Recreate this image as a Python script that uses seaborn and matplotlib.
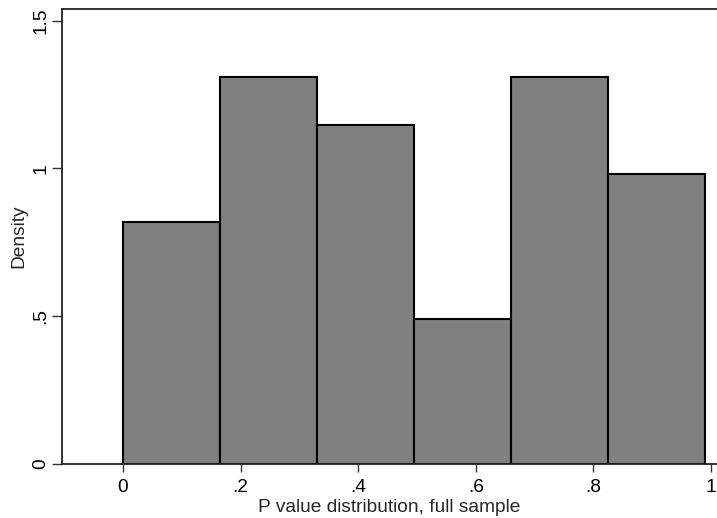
import matplotlib
matplotlib.use("Agg")
import matplotlib.pyplot as plt
import seaborn as sns

# Histogram of p values: bin edges and observation counts per bin
bin_edges = [0.0, 0.165, 0.33, 0.495, 0.66, 0.825, 0.99]
bin_counts = [5, 8, 7, 3, 8, 6]
bin_centers = [(a + b) / 2 for a, b in zip(bin_edges[:-1], bin_edges[1:])]

x_ticks = [0, 0.2, 0.4, 0.6, 0.8, 1.0]
x_tick_labels = ["0", ".2", ".4", ".6", ".8", "1"]
y_ticks = [0, 0.5, 1.0, 1.5]
y_tick_labels = ["0", ".5", "1", "1.5"]

FS = 13.8

sns.set_theme(style="white")
plt.rcParams["font.family"] = ["Liberation Sans", "DejaVu Sans"]
plt.rcParams["font.size"] = FS

fig = plt.figure(figsize=(7.17, 5.18), dpi=100)
ax = fig.add_axes([0.0865, 0.1042, 0.9135, 0.8778])

sns.histplot(x=bin_centers, weights=bin_counts, bins=bin_edges, stat="density",
             color="#808080", edgecolor="black", linewidth=1.5, alpha=1, ax=ax)

ax.set_xlim(-0.1037, 1.0102)
ax.set_ylim(0, 1.5386)
ax.set_xticks(x_ticks)
ax.set_xticklabels(x_tick_labels)
ax.set_yticks(y_ticks)
ax.set_yticklabels(y_tick_labels, rotation=90, va="center")

ax.tick_params(axis="both", which="major", direction="out", length=6,
               width=1, color="#333333", labelsize=FS, labelcolor="black",
               left=True, bottom=True)
ax.tick_params(axis="x", pad=5)
ax.tick_params(axis="y", length=7, pad=2)

ax.set_xlabel("P value distribution, full sample", fontsize=FS, labelpad=2)
ax.set_ylabel("Density", fontsize=FS, labelpad=4)

for side in ["left", "bottom", "top"]:
    ax.spines[side].set_visible(True)
    ax.spines[side].set_color("#222222")
    ax.spines[side].set_linewidth(1.3)
ax.spines["right"].set_visible(False)

fig.savefig("out.png", dpi=100)
